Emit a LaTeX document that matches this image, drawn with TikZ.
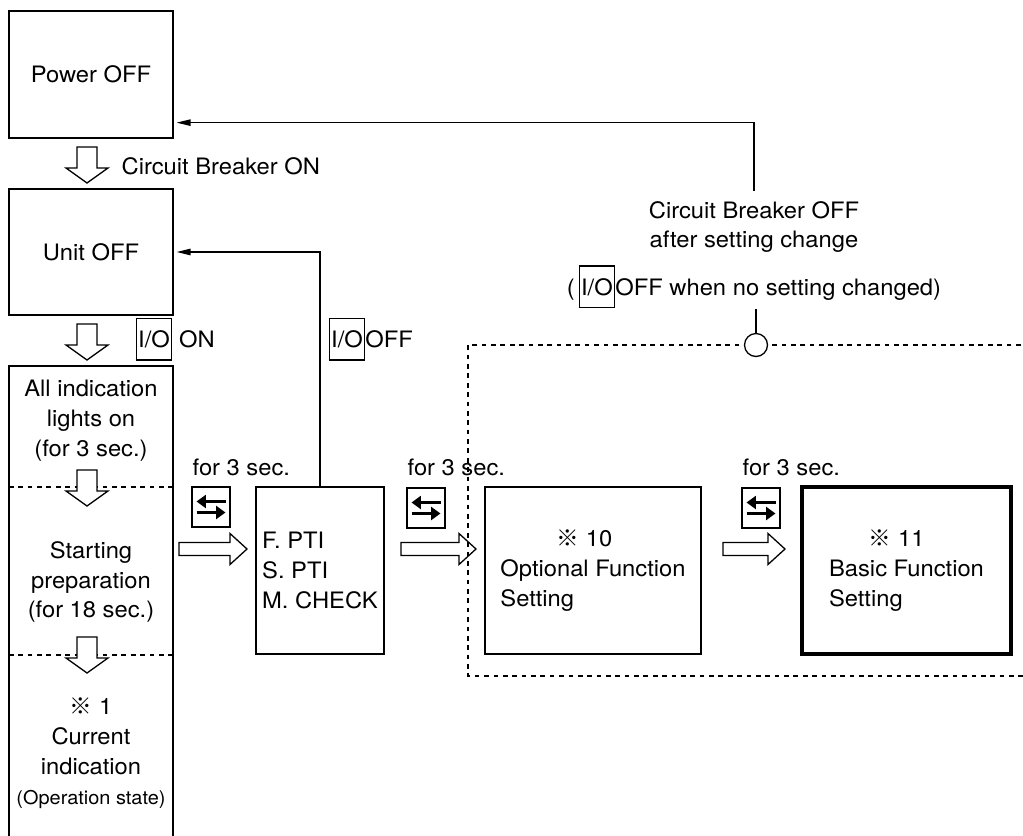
\documentclass[tikz,border=0pt]{standalone}
\usepackage{fontspec}
\setmainfont{TeX Gyre Heros}[FakeStretch=1.05]
\newfontfamily\cjkfont{Noto Sans CJK JP}
\usetikzlibrary{arrows.meta,calc}

\newcommand{\refmark}{{\cjkfont ※}}
\newcommand{\iobox}{{\setlength\fboxsep{1.2pt}\setlength\fboxrule{1pt}\fbox{\rule[-9pt]{0pt}{32pt}I/O}}}
\newcommand{\hollowD}[2]{\draw[fill=white] (#1-10,#2) -- (#1-10,#2+21) -- (#1-21,#2+21) -- (#1,#2+36) -- (#1+21,#2+21) -- (#1+10,#2+21) -- (#1+10,#2) -- cycle;}
\newcommand{\hollowR}[3]{\draw[fill=white] (#1,#3-6.5) -- (#2-17,#3-6.5) -- (#2-17,#3-15.5) -- (#2,#3) -- (#2-17,#3+15.5) -- (#2-17,#3+6.5) -- (#1,#3+6.5) -- cycle;}

\tikzset{
  box/.style={draw, line width=1.1pt, align=center},
  lbl/.style={inner sep=0pt},
  dsh/.style={line width=0.9pt, dash pattern=on 4pt off 4pt},
  arr/.style={line width=1.1pt, -{Triangle[length=12pt,width=5.5pt]}, shorten >=2.5pt},
  keyicon/.pic={
    \draw[line width=1.1pt] (-19,-20) rectangle (19,20);
    \draw[line width=3.4pt, -{Triangle[length=8pt,width=11pt]}] (14.5,-5.5) -- (-14.5,-5.5);
    \draw[line width=3.4pt, -{Triangle[length=8pt,width=11pt]}] (-14.5,5.5) -- (14.5,5.5);
  },
}

\begin{document}
\begin{tikzpicture}[x=0.03cm, y=-0.03cm, line width=1.1pt, font=\fontsize{19.3pt}{25.5pt}\selectfont]
    \useasboundingbox (0,0) rectangle (1023,836);

    \node[box, minimum width=4.92cm, minimum height=3.81cm] (pwr) at (91,74.5) {Power OFF};
    \node[box, minimum width=4.92cm, minimum height=3.78cm] (unit) at (91,252) {Unit OFF};
    \node[box, minimum width=3.84cm, minimum height=5.01cm, align=left] (fpti) at (320,570.5) {F. PTI\\S. PTI\\M. CHECK};
    \node[box, minimum width=6.48cm, minimum height=5.01cm, align=left] (optf) at (593,570.5) {\hspace*{48pt}\refmark\ 10\\Optional Function\\Setting};
    \node[box, line width=2.8pt, minimum width=6.27cm, minimum height=5.01cm, align=left] (basic) at (906.5,570.5) {\hspace*{34pt}\refmark\ 11\\Basic Function\\Setting};

    \draw (9,850) -- (9,366) -- (173,366) -- (173,850);
    \draw[dsh] (9,487) -- (173,487);
    \draw[dsh] (9,655) -- (173,655);
    \node[align=center] (allon) at (91,421) {All indication\\lights on\\(for 3 sec.)};
    \node[align=center] (prep) at (91,582) {Starting\\preparation\\(for 18 sec.)};
    \node[align=center] (curr) at (91,753) {\refmark\ 1\\Current\\indication\\{\fontsize{16.2pt}{22pt}\selectfont (Operation state)}};

    \hollowD{87}{147}
    \hollowD{87}{324}
    \hollowD{87}{470}
    \hollowD{87}{637}

    \node[lbl, anchor=base west] (cbon) at (121,174.5) {Circuit Breaker ON};
    \node[lbl, anchor=base west] (ioon) at (135,347.5) {\iobox\ ON};
    \node[lbl, anchor=base west] (iooff) at (328,347.5) {\iobox OFF};

    \node[lbl, anchor=base west] (t1) at (192,475) {for 3 sec.};
    \node[lbl, anchor=base west] (t2) at (407,475) {for 3 sec.};
    \node[lbl, anchor=base west] (t3) at (742,475) {for 3 sec.};
    \pic (k1) at (211,507) {keyicon};
    \pic (k2) at (426,508) {keyicon};
    \pic (k3) at (761,508) {keyicon};

    \hollowR{179}{247}{549}
    \hollowR{401}{476}{549}
    \hollowR{723}{785}{549}

    \draw[arr] (fpti.north) |- (unit.east);

    \coordinate (pwrin) at ($(pwr.south east)+(0,-16)$);
    \node[lbl, align=center, inner ysep=8pt] (cboff) at (754,227) {Circuit Breaker OFF\\after setting change};
    \draw[arr] (cboff.north) |- (pwrin);

    \node[lbl, anchor=base] (nochg) at (754,295) {(\,\iobox OFF when no setting changed)};
    \draw[dsh] (1030,345) -- (468,345) -- (468,676) -- (1030,676);
    \node[draw, circle, fill=white, minimum size=0.69cm, inner sep=0pt] (circ) at (756,345) {};
    \draw (circ.north) -- (circ.north |- nochg.south);
\end{tikzpicture}
\end{document}
